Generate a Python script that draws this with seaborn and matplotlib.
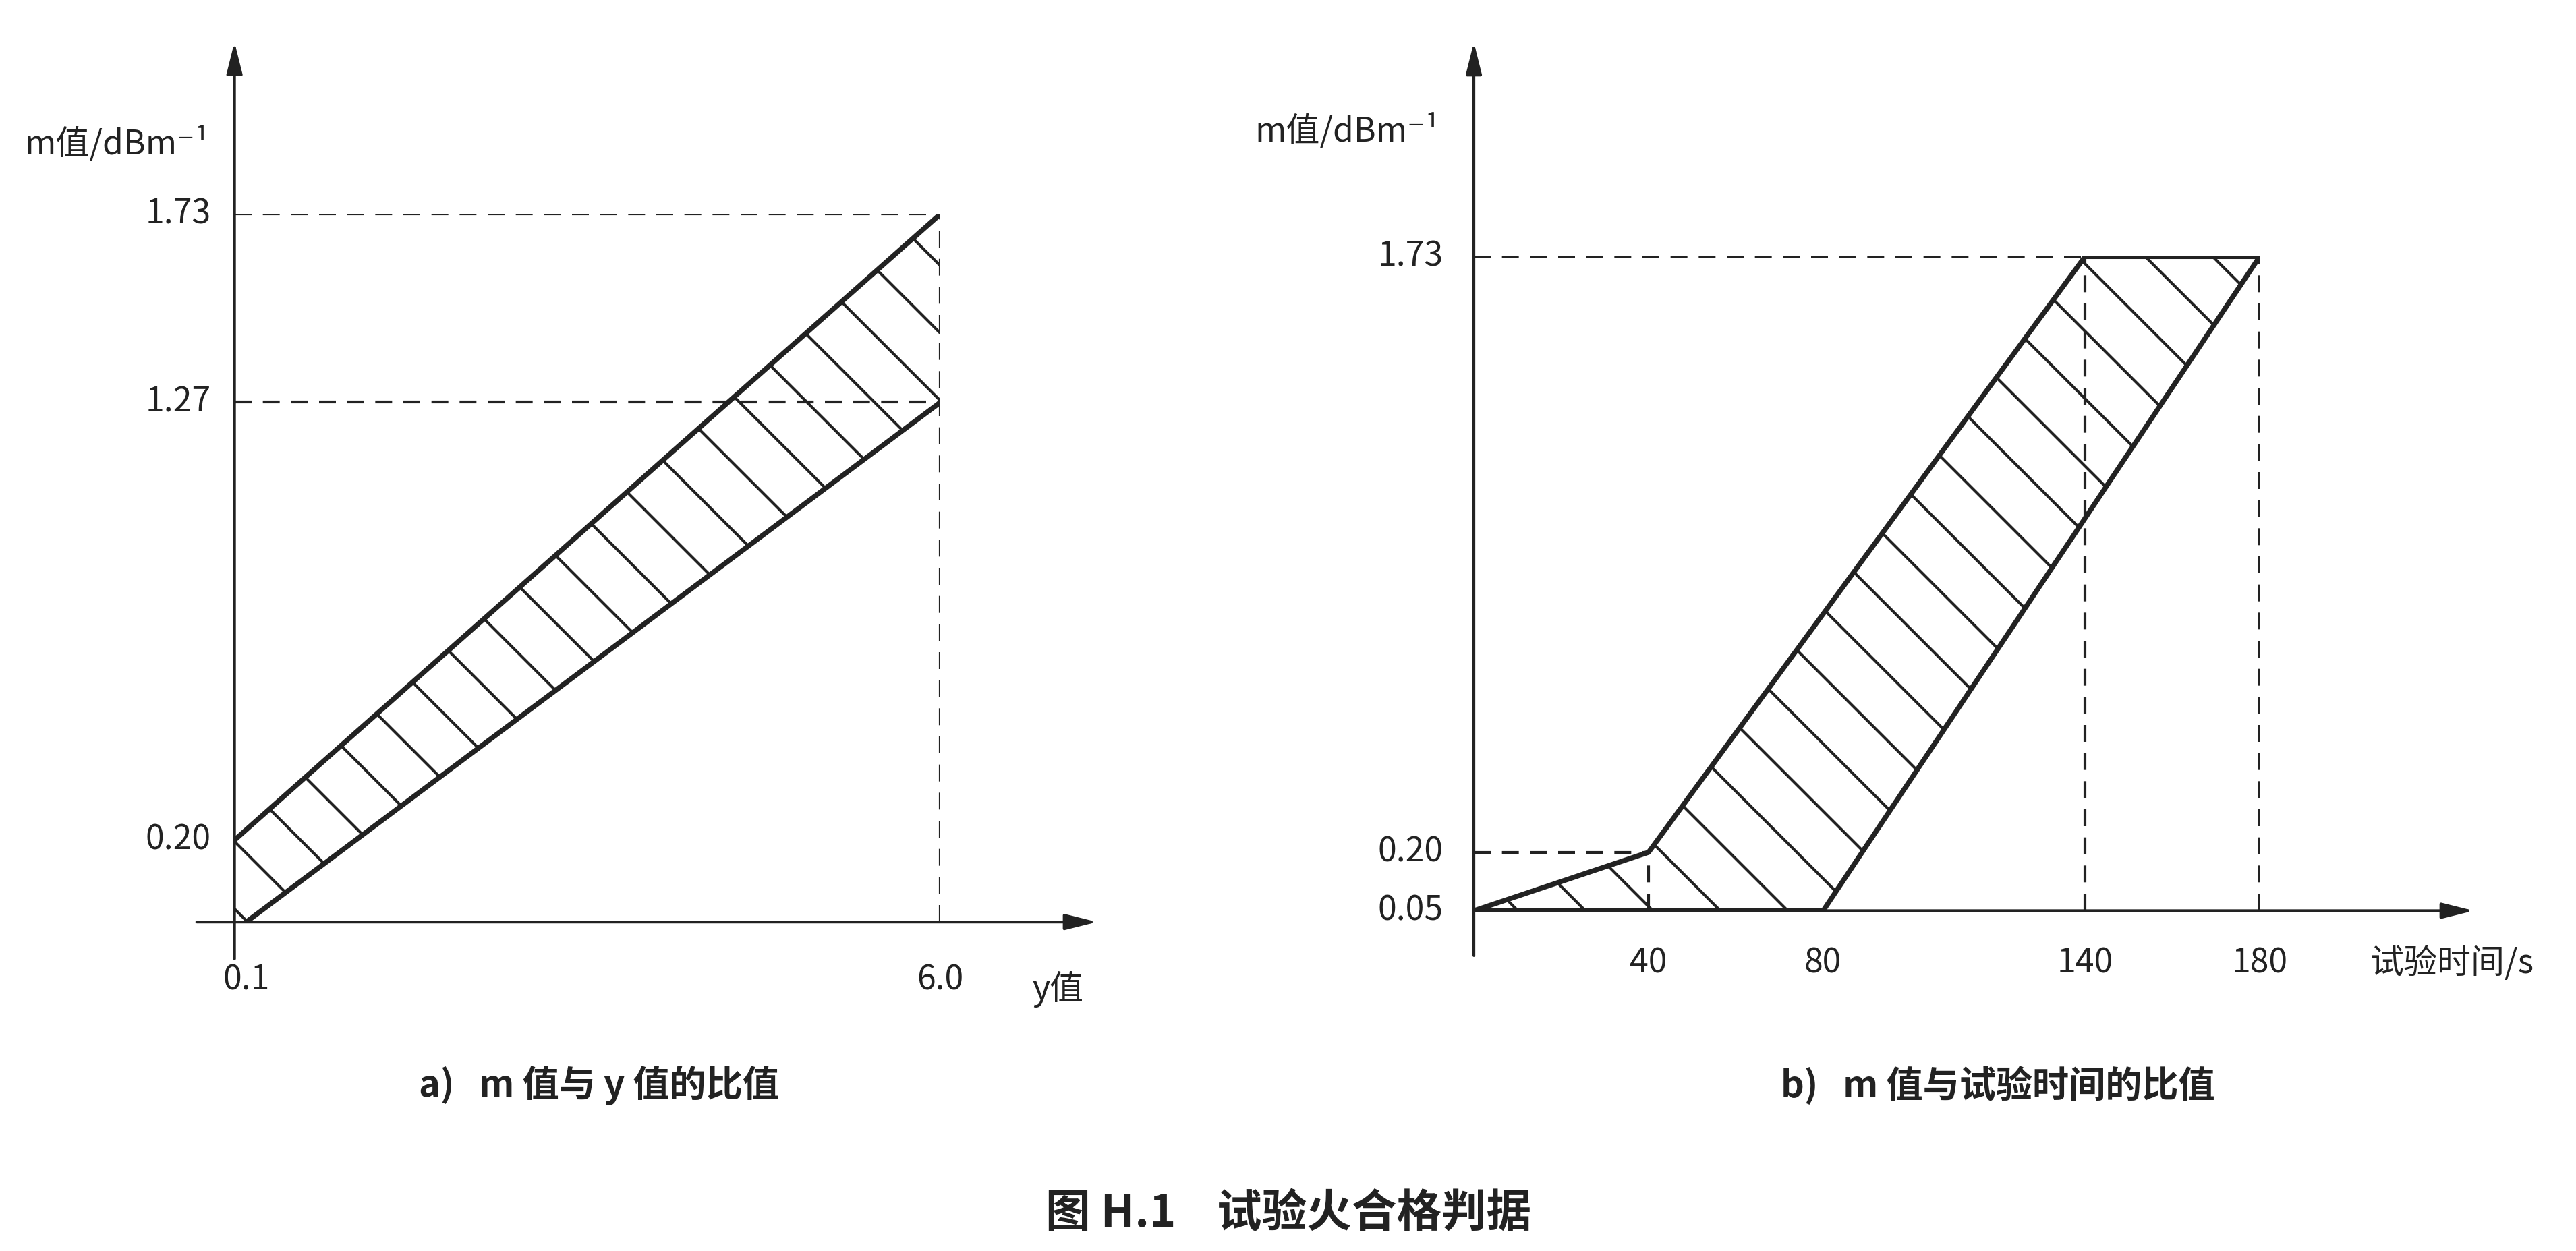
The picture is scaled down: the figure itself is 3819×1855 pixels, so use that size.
import matplotlib
matplotlib.use("Agg")
import matplotlib.pyplot as plt
import seaborn as sns
import pandas as pd

# panel a: m value vs y value
a_upper_x = [0.0, 6.0]
a_upper_m = [0.20, 1.73]
a_lower_x = [0.1, 6.0]
a_lower_m = [0.0, 1.27]
a_xticks = [0.1, 6.0]
a_xlabels = ["0.1", "6.0"]
a_yticks = [0.20, 1.27, 1.73]
a_ylabels = ["0.20", "1.27", "1.73"]

# panel b: m value vs test time
b_upper_t = [0, 40, 140, 180]
b_upper_m = [0.05, 0.20, 1.73, 1.73]
b_lower_t = [0, 80, 180]
b_lower_m = [0.05, 0.05, 1.73]
b_xticks = [40, 80, 140, 180]
b_yticks = [0.05, 0.20, 1.73]
b_ylabels = ["0.05", "0.20", "1.73"]

sns.set_theme(style="white")
plt.rcParams['font.family'] = ['Noto Sans CJK SC', 'DejaVu Sans']
plt.rcParams['hatch.linewidth'] = 1.0

fig = plt.figure(figsize=(3820 / 300, 1855 / 300), dpi=300)
axa = fig.add_axes([0.091, 0.263, 0.274, 0.566])
axb = fig.add_axes([0.572, 0.272, 0.305, 0.523])

FS = 12
LW = 1.8


def axis_arrows(ax, x0, x1, y0, y1, xaxis_y, yaxis_x):
    kw = dict(arrowstyle="-|>,head_length=0.8,head_width=0.2", color="#222", lw=1.0,
              shrinkA=0, shrinkB=0)
    ax.annotate("", xy=(x1, xaxis_y), xytext=(x0, xaxis_y), arrowprops=kw, annotation_clip=False)
    ax.annotate("", xy=(yaxis_x, y1), xytext=(yaxis_x, y0), arrowprops=kw, annotation_clip=False)


def setup(ax):
    for s in ax.spines.values():
        s.set_visible(False)
    ax.set_xticks([])
    ax.set_yticks([])
    ax.set_xlabel("")
    ax.set_ylabel("")


dash = dict(color="#222", lw=1.0, ls=(0, (6, 4)))

# ---- panel a
df_au = pd.DataFrame({"x": a_upper_x, "m": a_upper_m})
df_al = pd.DataFrame({"x": a_lower_x, "m": a_lower_m})
axa.fill([0.0, 0.0, 0.1, 6.0, 6.0], [0.20, 0.0, 0.0, 1.27, 1.73],
         facecolor="none", edgecolor="#222", hatch="\\", lw=0)
sns.lineplot(data=df_au, x="x", y="m", ax=axa, color="#222", lw=LW)
sns.lineplot(data=df_al, x="x", y="m", ax=axa, color="#222", lw=LW)
axa.plot([0, 6.0], [1.73, 1.73], **dash)
axa.plot([0, 6.0], [1.27, 1.27], **dash)
axa.plot([6.0, 6.0], [0, 1.73], **dash)
axa.set_xlim(0, 6.0)
axa.set_ylim(0, 1.73)
setup(axa)
axis_arrows(axa, -0.32, 7.33, -0.09, 2.15, 0, 0)
for v, l in zip(a_xticks, a_xlabels):
    axa.text(v, -0.1, l, ha="center", va="top", fontsize=FS, color="#222")
for v, l in zip(a_yticks, a_ylabels):
    axa.text(-0.2, v, l, ha="right", va="center", fontsize=FS, color="#222")
axa.text(7.0, -0.12, "y值", ha="center", va="top", fontsize=FS, color="#222")
axa.text(-1.0, 1.90, "m值/dBm⁻¹", ha="center", va="center", fontsize=FS, color="#222")
axa.text(3.1, -0.40, "a)   m 值与 y 值的比值", ha="center", va="center",
         fontsize=FS + 1, fontweight="bold", color="#222")

# ---- panel b
df_bu = pd.DataFrame({"t": b_upper_t, "m": b_upper_m})
df_bl = pd.DataFrame({"t": b_lower_t, "m": b_lower_m})
axb.fill(b_upper_t + b_lower_t[::-1], b_upper_m + b_lower_m[::-1],
         facecolor="none", edgecolor="#222", hatch="\\", lw=0)
sns.lineplot(data=df_bu, x="t", y="m", ax=axb, color="#222", lw=LW, sort=False)
sns.lineplot(data=df_bl, x="t", y="m", ax=axb, color="#222", lw=LW, sort=False)
axb.plot([0, 40], [0.20, 0.20], **dash)
axb.plot([40, 40], [0.05, 0.20], **dash)
axb.plot([0, 180], [1.73, 1.73], **dash)
axb.plot([140, 140], [0.05, 1.73], **dash)
axb.plot([180, 180], [0.05, 1.73], **dash)
axb.set_xlim(0, 180)
axb.set_ylim(0.05, 1.73)
setup(axb)
axis_arrows(axb, 0, 229, -0.065, 2.28, 0.05, 0)
for v in b_xticks:
    axb.text(v, -0.04, str(v), ha="center", va="top", fontsize=FS, color="#222")
for v, l in zip(b_yticks, b_ylabels):
    axb.text(-7, v, l, ha="right", va="center", fontsize=FS, color="#222")
axb.text(224, -0.04, "试验时间/s", ha="center", va="top", fontsize=FS, color="#222")
axb.text(-29, 2.05, "m值/dBm⁻¹", ha="center", va="center", fontsize=FS, color="#222")
axb.text(120, -0.40, "b)   m 值与试验时间的比值", ha="center", va="center",
         fontsize=FS + 1, fontweight="bold", color="#222")

fig.text(0.5, 0.03, "图 H.1    试验火合格判据", ha="center", va="center",
         fontsize=FS + 4, fontweight="bold", color="#222")

fig.savefig("out.png", dpi=300, facecolor="white")
